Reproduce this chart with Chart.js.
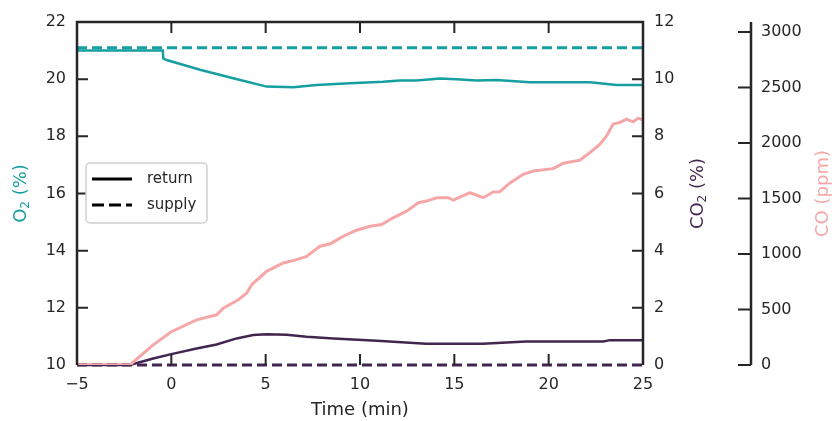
<!DOCTYPE html>
<html>
<head>
<meta charset="utf-8">
<script src="https://cdn.jsdelivr.net/npm/chart.js@4"></script>
<style>
  html, body { margin: 0; padding: 0; background: #fff; }
</style>
</head>
<body>
<canvas id="chart" width="834" height="421"></canvas>
<script>
// data
var o2Time   = [-5, -0.45, -0.43, -0.25, 1.52, 3.28, 5.05, 6.46, 7.7, 9.47, 11.23, 12.1, 13, 14.24, 15.12, 16.18, 17.24, 19, 22.19, 23.6, 25];
var o2Return = [21.0, 21.0, 20.73, 20.67, 20.33, 20.03, 19.74, 19.72, 19.8, 19.86, 19.91, 19.95, 19.95, 20.02, 20.0, 19.95, 19.97, 19.89, 19.89, 19.8, 19.8];

var co2Time   = [-5, -2.2, -0.96, 0, 1.34, 2.4, 3.46, 4.34, 5.05, 6.11, 7.17, 8.6, 10.9, 13.5, 16.5, 18.8, 22.9, 23.25, 25];
var co2Return = [0, 0, 0.23, 0.38, 0.58, 0.72, 0.93, 1.05, 1.08, 1.06, 0.99, 0.93, 0.85, 0.74, 0.74, 0.82, 0.82, 0.87, 0.87];

var coTime = [-5, -2.2, -0.96, 0, 1.34, 2.4, 2.75, 3.55, 4.0, 4.26, 5.05, 5.93, 6.64, 7.17, 7.88, 8.4, 8.76, 9.11, 9.82, 10.53, 11.15, 11.76, 12.47, 13.09, 13.53, 14.06, 14.68, 14.94, 15.83, 16.53, 17.06, 17.4, 17.95, 18.65, 19.18, 20.24, 20.77, 21.66, 22.19, 22.72, 23.07, 23.42, 23.78, 24.13, 24.48, 24.75, 25];
var coValue = [0, 0, 181, 300, 407, 452, 512, 588, 648, 723, 844, 919, 949, 979, 1070, 1090, 1125, 1160, 1214, 1250, 1266, 1326, 1386, 1462, 1477, 1507, 1507, 1486, 1552, 1507, 1558, 1560, 1640, 1718, 1748, 1769, 1817, 1845, 1914, 1989, 2064, 2170, 2185, 2215, 2191, 2224, 2206];

var supplyTime = [-5, 25];
var o2Supply   = [21.1, 21.1];
var co2Supply  = [0, 0];

// CO axis tick labels (drawn on the offset spine)
var coTicks = [0, 500, 1000, 1500, 2000, 2500, 3000];

var legendLabels = ['return', 'supply'];

var TEAL = '#159fa1';
var PURPLE = '#43264f';
var PINK = '#f5a6a7';
var INK = '#262626';
var FONT = "'DejaVu Sans', sans-serif";

function pts(xs, ys) {
  return xs.map(function(x, i){ return {x: x, y: ys[i]}; });
}

function minusSign(v) {
  return String(v).replace('-', '\u2212');
}

// spines, inward ticks, third axis, titles and legend
var decor = {
  id: 'decor',
  afterDatasetsDraw: function(chart) {
    var ctx = chart.ctx, a = chart.chartArea;
    var sx = chart.scales.x, sy = chart.scales.y, sy2 = chart.scales.y2, sy3 = chart.scales.y3;
    var tl = 11;
    ctx.save();
    ctx.strokeStyle = INK;
    ctx.lineCap = 'butt';

    // spines
    ctx.lineWidth = 2.5;
    ctx.beginPath();
    ctx.moveTo(a.left, a.bottom); ctx.lineTo(a.left, a.top);
    ctx.lineTo(a.right, a.top); ctx.lineTo(a.right, a.bottom);
    ctx.stroke();

    ctx.lineWidth = 2;
    ctx.beginPath();
    sx.ticks.forEach(function(t){
      var px = sx.getPixelForValue(t.value);
      if (t.value === sx.min || t.value === sx.max) return;
      ctx.moveTo(px, a.bottom); ctx.lineTo(px, a.bottom - tl);
      ctx.moveTo(px, a.top); ctx.lineTo(px, a.top + tl);
    });
    sy.ticks.forEach(function(t){
      if (t.value === sy.min || t.value === sy.max) return;
      var py = sy.getPixelForValue(t.value);
      ctx.moveTo(a.left, py); ctx.lineTo(a.left + tl, py);
    });
    sy2.ticks.forEach(function(t){
      if (t.value === sy2.min || t.value === sy2.max) return;
      var py = sy2.getPixelForValue(t.value);
      ctx.moveTo(a.right, py); ctx.lineTo(a.right - tl, py);
    });
    ctx.stroke();

    // CO axis, offset to the right
    var cx = 751;
    ctx.lineWidth = 2.5;
    ctx.beginPath();
    ctx.moveTo(cx, a.top); ctx.lineTo(cx, a.bottom);
    ctx.stroke();
    ctx.lineWidth = 2;
    ctx.fillStyle = INK;
    ctx.font = '16px ' + FONT;
    ctx.textAlign = 'left';
    ctx.textBaseline = 'middle';
    ctx.beginPath();
    coTicks.forEach(function(v){
      var py = sy3.getPixelForValue(v);
      ctx.moveTo(cx, py); ctx.lineTo(cx - 13, py);
      ctx.fillText(String(v), cx + 10, py);
    });
    ctx.stroke();

    // rotated titles with subscript
    function title(x, parts, color) {
      ctx.save();
      ctx.translate(x, (a.top + a.bottom) / 2);
      ctx.rotate(-Math.PI / 2);
      ctx.fillStyle = color;
      ctx.textBaseline = 'middle';
      ctx.textAlign = 'left';
      var w = 0;
      parts.forEach(function(p){
        ctx.font = (p.sub ? '12px ' : '18px ') + FONT;
        w += ctx.measureText(p.t).width;
      });
      var pos = -w / 2;
      parts.forEach(function(p){
        ctx.font = (p.sub ? '12px ' : '18px ') + FONT;
        ctx.fillText(p.t, pos, p.sub ? 5 : 0);
        pos += ctx.measureText(p.t).width;
      });
      ctx.restore();
    }
    title(21, [{t: 'O'}, {t: '2', sub: true}, {t: ' (%)'}], TEAL);
    title(698, [{t: 'CO'}, {t: '2', sub: true}, {t: ' (%)'}], PURPLE);
    title(823, [{t: 'CO (ppm)'}], PINK);

    // legend
    var lx = 86, ly = 163, lw = 121, lh = 60;
    ctx.fillStyle = '#fff';
    ctx.strokeStyle = '#d0d0d0';
    ctx.lineWidth = 1.5;
    ctx.beginPath();
    ctx.roundRect(lx, ly, lw, lh, 4);
    ctx.fill(); ctx.stroke();
    ctx.strokeStyle = '#000';
    ctx.lineWidth = 3;
    ctx.beginPath();
    ctx.moveTo(92, 179); ctx.lineTo(132, 179);
    ctx.stroke();
    ctx.setLineDash([12, 5]);
    ctx.beginPath();
    ctx.moveTo(92, 205); ctx.lineTo(132, 205);
    ctx.stroke();
    ctx.setLineDash([]);
    ctx.fillStyle = INK;
    ctx.font = '15px ' + FONT;
    ctx.textAlign = 'left';
    ctx.textBaseline = 'middle';
    ctx.fillText(legendLabels[0], 147, 179);
    ctx.fillText(legendLabels[1], 147, 205);

    ctx.restore();
  }
};

var tickFont = {family: FONT, size: 16};

new Chart(document.getElementById('chart'), {
  type: 'line',
  data: {
    datasets: [
      {data: pts(supplyTime, o2Supply), yAxisID: 'y', borderColor: TEAL, borderWidth: 3, borderDash: [10, 5]},
      {data: pts(o2Time, o2Return), yAxisID: 'y', borderColor: TEAL, borderWidth: 2.5},
      {data: pts(coTime, coValue), yAxisID: 'y3', borderColor: PINK, borderWidth: 3},
      {data: pts(supplyTime, co2Supply), yAxisID: 'y2', borderColor: PURPLE, borderWidth: 3, borderDash: [10, 5], clip: 4},
      {data: pts(co2Time, co2Return), yAxisID: 'y2', borderColor: PURPLE, borderWidth: 2.5, clip: 4}
    ]
  },
  options: {
    responsive: false,
    animation: false,
    devicePixelRatio: 1,
    layout: {padding: {top: 22, left: 0, right: 0, bottom: 0}},
    elements: {point: {radius: 0}, line: {tension: 0}},
    plugins: {legend: {display: false}, tooltip: {enabled: false}},
    scales: {
      x: {
        type: 'linear', position: 'bottom', min: -5, max: 25,
        grid: {display: false, drawTicks: false}, border: {display: false},
        ticks: {stepSize: 5, font: tickFont, color: INK, padding: 10, maxRotation: 0, callback: minusSign},
        title: {display: true, text: 'Time (min)', font: {family: FONT, size: 18}, color: INK, padding: {top: 0, bottom: 0}},
        afterFit: function(s){ s.height = 56; }
      },
      y: {
        position: 'left', min: 10, max: 22,
        grid: {display: false, drawTicks: false}, border: {display: false},
        ticks: {stepSize: 2, font: tickFont, color: INK, padding: 11},
        afterFit: function(s){ s.width = 77; }
      },
      y2: {
        position: 'right', min: 0, max: 12,
        grid: {display: false, drawTicks: false}, border: {display: false},
        ticks: {stepSize: 2, font: tickFont, color: INK, padding: 11},
        afterFit: function(s){ s.width = 191; }
      },
      y3: {
        position: 'right', min: 0, max: 3090, display: false
      }
    }
  },
  plugins: [decor]
});
</script>
</body>
</html>
